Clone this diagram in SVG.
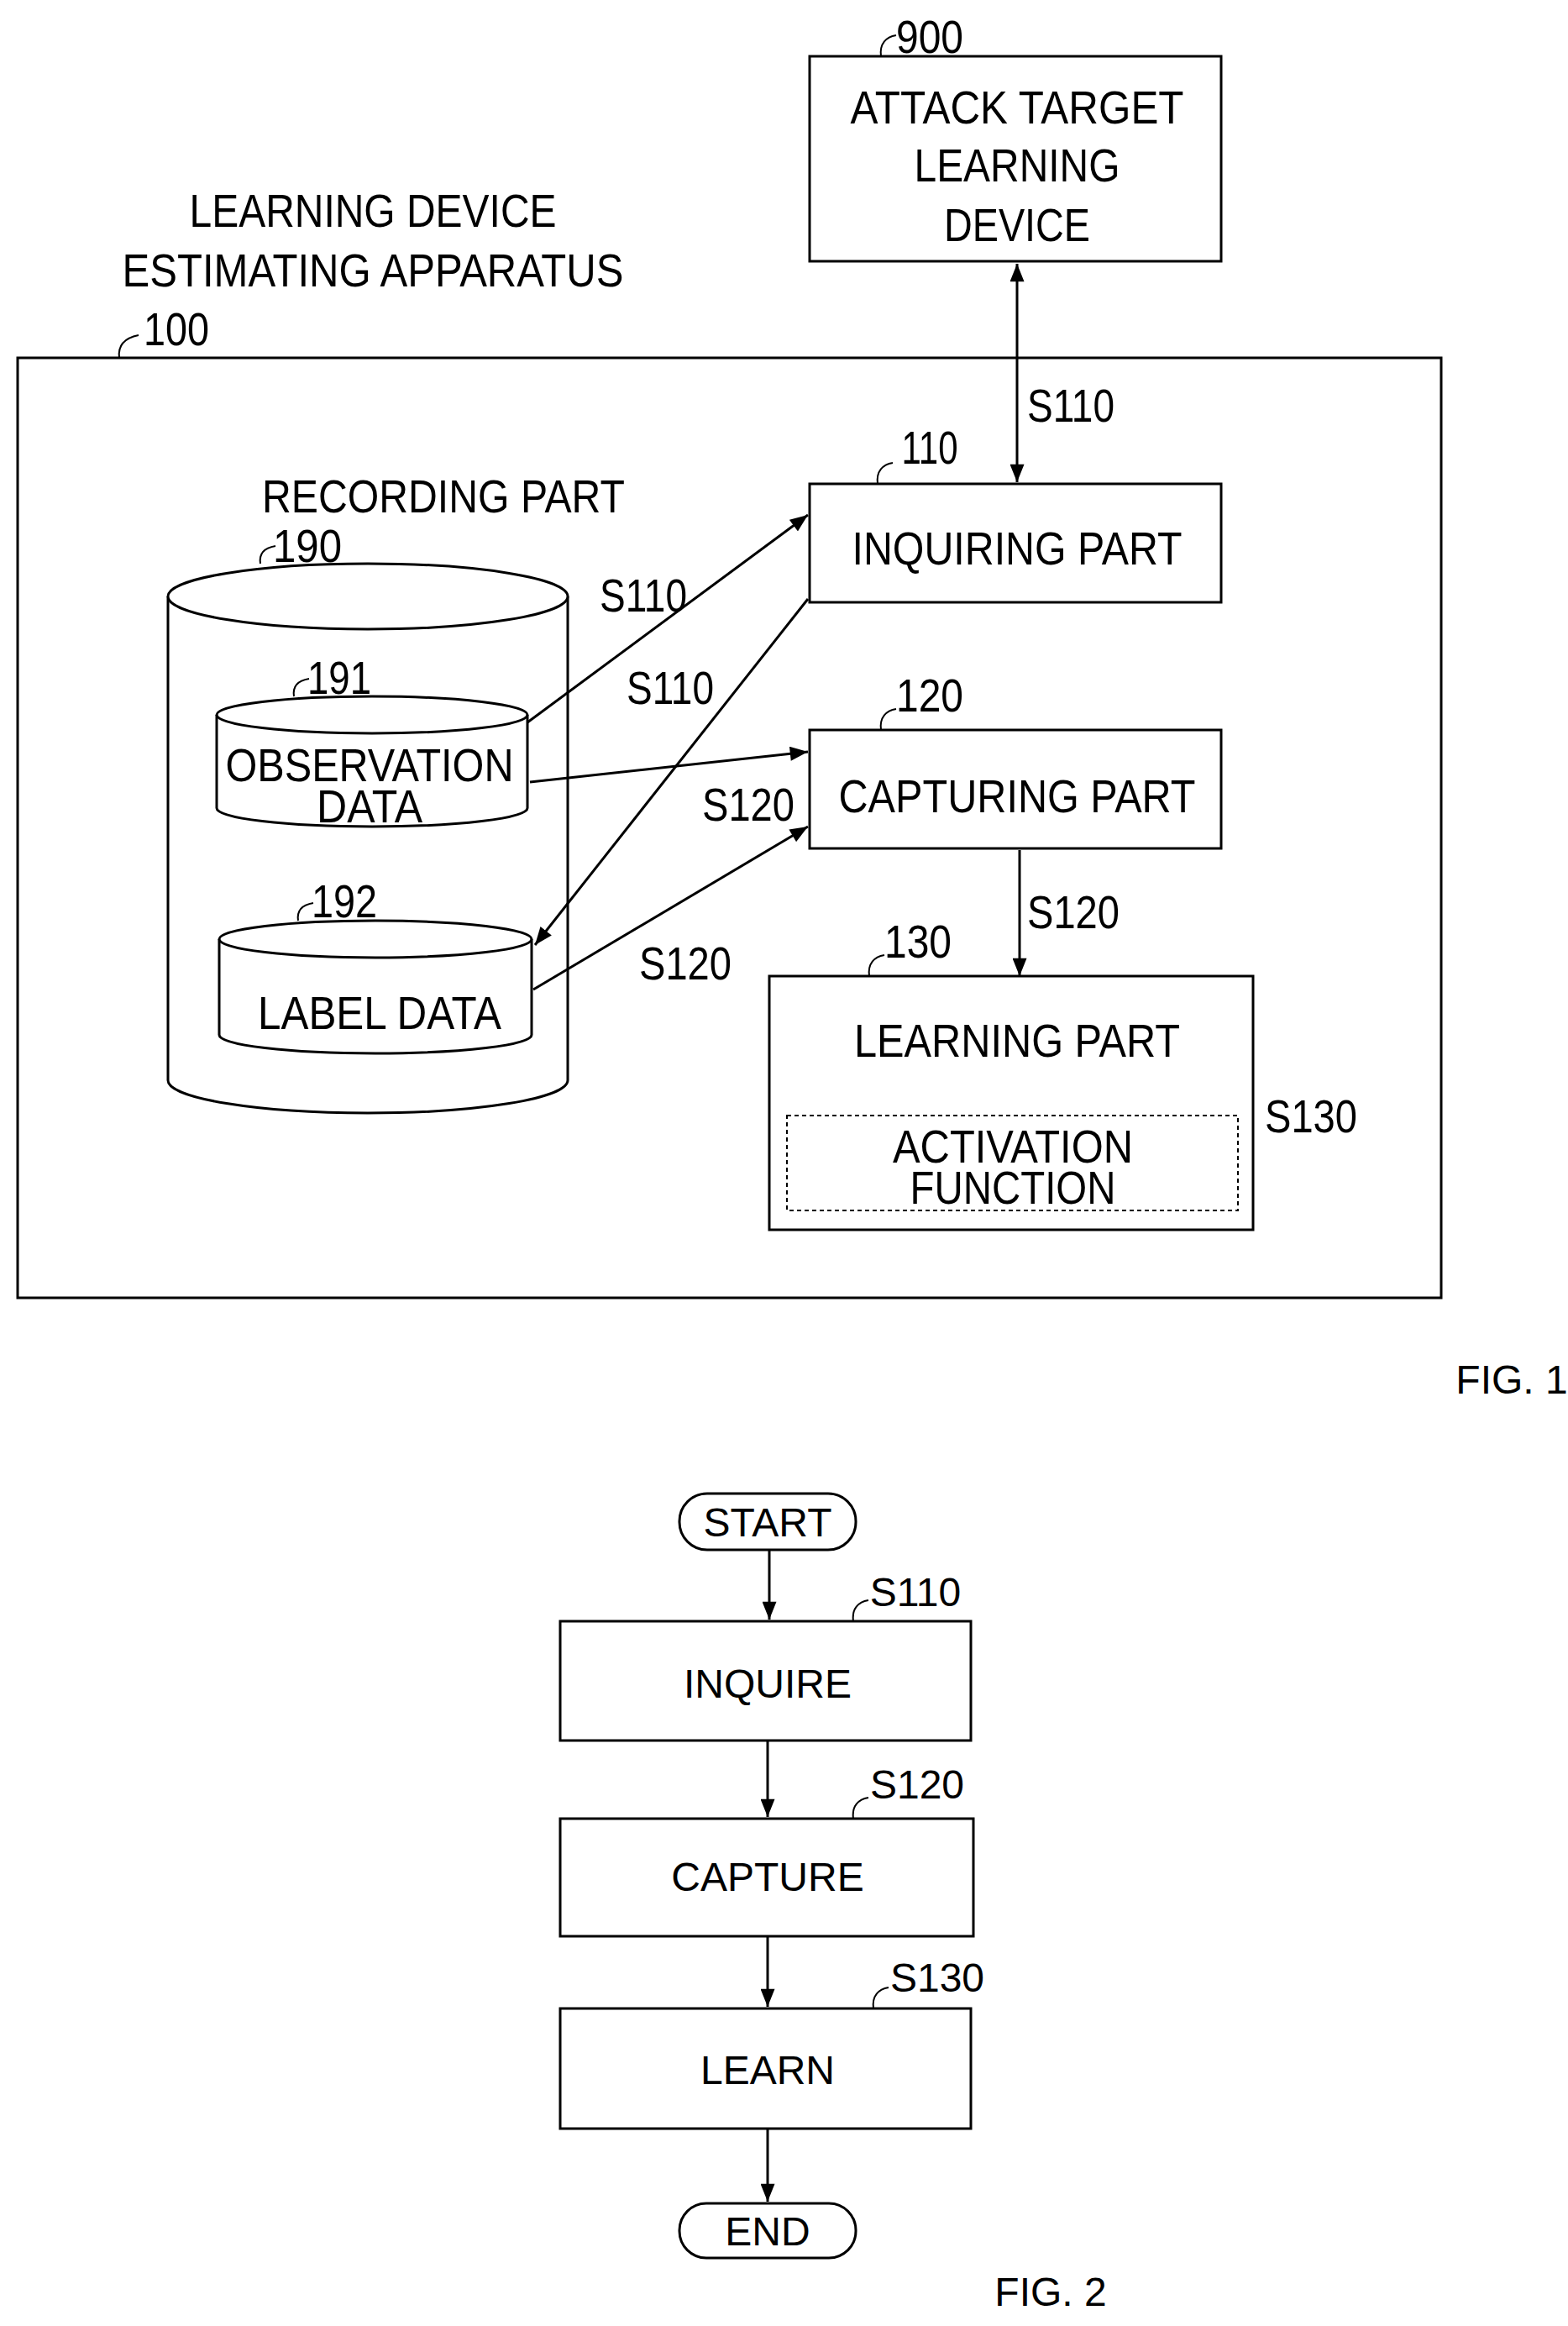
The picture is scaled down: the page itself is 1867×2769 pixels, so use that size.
<svg xmlns="http://www.w3.org/2000/svg" width="1867" height="2769" viewBox="0 0 1867 2769">
<style>
.b{fill:#fff;stroke:#000;stroke-width:3}
.n{fill:none;stroke:#000;stroke-width:3}
.l{fill:none;stroke:#000;stroke-width:2}
.t{font-family:"Liberation Sans",Arial,sans-serif;font-size:56px;text-anchor:middle;fill:#000}
.f{font-family:"Liberation Sans",Arial,sans-serif;font-size:48px;text-anchor:middle;fill:#000}
</style>
<defs>
<marker id="a" viewBox="0 0 20 16" refX="20" refY="8" markerWidth="22" markerHeight="17" markerUnits="userSpaceOnUse" orient="auto-start-reverse"><path d="M0,0L20,8L0,16z" fill="#000"/></marker>
</defs>
<rect width="1867" height="2769" fill="#fff"/>
<g id="title"><text class="t" x="444" y="270" textLength="437" lengthAdjust="spacingAndGlyphs">LEARNING DEVICE</text>
<text class="t" x="444" y="341" textLength="597" lengthAdjust="spacingAndGlyphs">ESTIMATING APPARATUS</text></g>
<g id="n100"><rect class="n" x="21" y="426" width="1695" height="1119"/>
<path class="l" d="M142,426 C140,410 150,402 165,399"/>
<text class="t" x="210" y="411" textLength="78" lengthAdjust="spacingAndGlyphs">100</text></g>
<g id="n900"><rect class="b" x="964" y="67" width="490" height="244"/>
<text class="t" x="1211" y="147" textLength="397" lengthAdjust="spacingAndGlyphs">ATTACK TARGET</text>
<text class="t" x="1211" y="216" textLength="245" lengthAdjust="spacingAndGlyphs">LEARNING</text>
<text class="t" x="1211" y="287" textLength="174" lengthAdjust="spacingAndGlyphs">DEVICE</text>
<path class="l" d="M1049,67 C1047,52 1055,44 1067,42"/>
<text class="t" x="1107" y="63" textLength="80" lengthAdjust="spacingAndGlyphs">900</text></g>
<g id="n110"><rect class="b" x="964" y="576" width="490" height="141"/>
<text class="t" x="1211" y="672" textLength="393" lengthAdjust="spacingAndGlyphs">INQUIRING PART</text>
<path class="l" d="M1045,576 C1043,561 1051,553 1063,551"/>
<text class="t" x="1107" y="552" textLength="67" lengthAdjust="spacingAndGlyphs">110</text></g>
<g id="n120"><rect class="b" x="964" y="869" width="490" height="141"/>
<text class="t" x="1211" y="967" textLength="425" lengthAdjust="spacingAndGlyphs">CAPTURING PART</text>
<path class="l" d="M1049,869 C1047,854 1055,846 1067,844"/>
<text class="t" x="1107" y="847" textLength="80" lengthAdjust="spacingAndGlyphs">120</text></g>
<g id="n130"><rect class="b" x="916" y="1162" width="576" height="302"/>
<text class="t" x="1211" y="1258" textLength="388" lengthAdjust="spacingAndGlyphs">LEARNING PART</text>
<rect x="937" y="1328" width="537" height="113" fill="none" stroke="#000" stroke-width="2" stroke-dasharray="5,4"/>
<text class="t" x="1206" y="1384" textLength="286" lengthAdjust="spacingAndGlyphs">ACTIVATION</text>
<text class="t" x="1206" y="1433" textLength="245" lengthAdjust="spacingAndGlyphs">FUNCTION</text>
<path class="l" d="M1035,1162 C1033,1147 1041,1139 1053,1137"/>
<text class="t" x="1093" y="1140" textLength="80" lengthAdjust="spacingAndGlyphs">130</text>
<text class="t" x="1561" y="1348" textLength="110" lengthAdjust="spacingAndGlyphs">S130</text></g>
<g id="n190"><path class="b" d="M200,710 L200,1286 A238,39 0 0 0 676,1286 L676,710"/>
<ellipse class="b" cx="438" cy="710" rx="238" ry="39"/>
<text class="t" x="528" y="610" textLength="432" lengthAdjust="spacingAndGlyphs">RECORDING PART</text>
<path class="l" d="M310,671 C308,658 316,652 328,650"/>
<text class="t" x="366" y="669" textLength="82" lengthAdjust="spacingAndGlyphs">190</text></g>
<g id="n191"><path class="b" d="M258,851 L258,962 A185,22 0 0 0 628,962 L628,851"/>
<ellipse class="b" cx="443" cy="851" rx="185" ry="22"/>
<text class="t" x="440" y="930" textLength="343" lengthAdjust="spacingAndGlyphs">OBSERVATION</text>
<text class="t" x="440" y="979" textLength="126" lengthAdjust="spacingAndGlyphs">DATA</text>
<path class="l" d="M350,829 C348,816 356,810 368,808"/>
<text class="t" x="404" y="826" textLength="76" lengthAdjust="spacingAndGlyphs">191</text></g>
<g id="n192"><path class="b" d="M261,1118 L261,1232 A186,22 0 0 0 633,1232 L633,1118"/>
<ellipse class="b" cx="447" cy="1118" rx="186" ry="22"/>
<text class="t" x="452" y="1225" textLength="290" lengthAdjust="spacingAndGlyphs">LABEL DATA</text>
<path class="l" d="M355,1096 C353,1083 361,1077 373,1075"/>
<text class="t" x="410" y="1092" textLength="78" lengthAdjust="spacingAndGlyphs">192</text></g>
<g id="connectors">
<line class="n" x1="1211" y1="314" x2="1211" y2="574" marker-start="url(#a)" marker-end="url(#a)"/>
<line class="n" x1="628" y1="860" x2="962" y2="613" marker-end="url(#a)"/>
<line class="n" x1="962" y1="713" x2="637" y2="1125" marker-end="url(#a)"/>
<line class="n" x1="631" y1="931" x2="962" y2="895" marker-end="url(#a)"/>
<line class="n" x1="635" y1="1178" x2="962" y2="984" marker-end="url(#a)"/>
<line class="n" x1="1214" y1="1012" x2="1214" y2="1162" marker-end="url(#a)"/>
<text class="t" x="1275" y="502" textLength="104" lengthAdjust="spacingAndGlyphs">S110</text>
<text class="t" x="766" y="728" textLength="104" lengthAdjust="spacingAndGlyphs">S110</text>
<text class="t" x="798" y="838" textLength="104" lengthAdjust="spacingAndGlyphs">S110</text>
<text class="t" x="891" y="977" textLength="110" lengthAdjust="spacingAndGlyphs">S120</text>
<text class="t" x="816" y="1166" textLength="110" lengthAdjust="spacingAndGlyphs">S120</text>
<text class="t" x="1278" y="1105" textLength="110" lengthAdjust="spacingAndGlyphs">S120</text>
</g>
<text class="f" x="1800" y="1659">FIG. 1</text>
<g id="start"><rect class="b" x="809" y="1778" width="210" height="67" rx="33"/><text class="f" x="914" y="1829">START</text></g>
<g id="s110"><rect class="b" x="667" y="1930" width="489" height="142"/><text class="f" x="914" y="2021">INQUIRE</text>
<path class="l" d="M1016,1930 C1014,1915 1022,1907 1034,1905"/><text class="f" x="1090" y="1912">S110</text></g>
<g id="s120"><rect class="b" x="667" y="2165" width="492" height="140"/><text class="f" x="914" y="2251">CAPTURE</text>
<path class="l" d="M1016,2165 C1014,2150 1022,2142 1034,2140"/><text class="f" x="1092" y="2141">S120</text></g>
<g id="s130"><rect class="b" x="667" y="2391" width="489" height="143"/><text class="f" x="914" y="2481">LEARN</text>
<path class="l" d="M1040,2391 C1038,2376 1046,2368 1058,2366"/><text class="f" x="1116" y="2371">S130</text></g>
<g id="end"><rect class="b" x="809" y="2623" width="210" height="65" rx="32"/><text class="f" x="914" y="2673">END</text></g>
<g id="flow">
<line class="n" x1="916" y1="1845" x2="916" y2="1928" marker-end="url(#a)"/>
<line class="n" x1="914" y1="2072" x2="914" y2="2163" marker-end="url(#a)"/>
<line class="n" x1="914" y1="2305" x2="914" y2="2389" marker-end="url(#a)"/>
<line class="n" x1="914" y1="2534" x2="914" y2="2621" marker-end="url(#a)"/>
</g>
<text class="f" x="1251" y="2745">FIG. 2</text>
</svg>
